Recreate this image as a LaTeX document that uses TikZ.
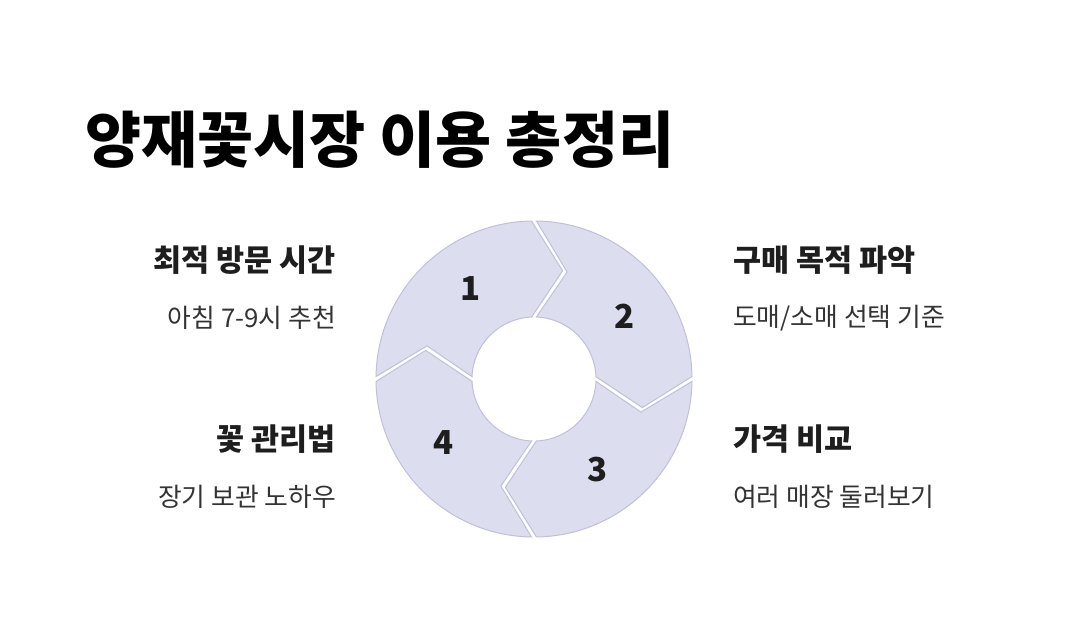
\documentclass[tikz,border=0pt]{standalone}
\usepackage{fontspec}
\usetikzlibrary{calc}
\setmainfont{Noto Sans CJK KR}
\definecolor{ringfill}{RGB}{221,221,240}
\definecolor{ringline}{RGB}{192,192,218}
\definecolor{txtdark}{RGB}{30,30,30}
\definecolor{txtsub}{RGB}{51,51,51}
\begin{document}
\begin{tikzpicture}[x=1pt,y=1pt,
  seg/.style={fill=ringfill, draw=ringline, line width=1pt, line join=miter},
  num/.style={font=\bfseries\fontsize{33}{38}\selectfont, text=txtdark},
  head/.style={font=\bfseries\fontsize{30.5}{34}\selectfont, text=txtdark, inner sep=0pt},
  sub/.style={font=\fontsize{25.8}{30}\selectfont, text=txtsub, inner sep=0pt},
  ttl/.style={font=\bfseries\fontsize{61}{66}\selectfont, text=black, inner sep=0pt}]
\useasboundingbox[fill=white] (0,0) rectangle (1072,-632);
\node[ttl, anchor=west] (title) at (85,-140) {양재꽃시장 이용 총정리};
\foreach \k in {0,1,2,3}{
  \begin{scope}[shift={(534,-379)}, rotate=-90*\k]
    \draw[seg] (179.1:158) arc[start angle=179.1, end angle=90.9, radius=158]
      -- (75.2:112) -- (92.2:62) arc[start angle=92.2, end angle=177.8, radius=62]
      -- (162.8:112) -- cycle;
  \end{scope}
}
\coordinate (c) at (534,-379);
\node[num] (n1) at ($(c)+(125:110)$) {1};
\node[num] (n2) at ($(c)+(35:110)$) {2};
\node[num] (n3) at ($(c)+(-55:110)$) {3};
\node[num] (n4) at ($(c)+(215:110)$) {4};
\node[head, anchor=east] (h1) at (336,-260) {최적 방문 시간};
\node[sub, anchor=east] (s1) at (336,-318) {아침 7-9시 추천};
\node[head, anchor=east] (h4) at (336,-439) {꽃 관리법};
\node[sub, anchor=east] (s4) at (336,-497) {장기 보관 노하우};
\node[head, anchor=west] (h2) at (733,-260) {구매 목적 파악};
\node[sub, anchor=west] (s2) at (733,-318) {도매/소매 선택 기준};
\node[head, anchor=west] (h3) at (733,-439) {가격 비교};
\node[sub, anchor=west] (s3) at (733,-497) {여러 매장 둘러보기};
\end{tikzpicture}
\end{document}
